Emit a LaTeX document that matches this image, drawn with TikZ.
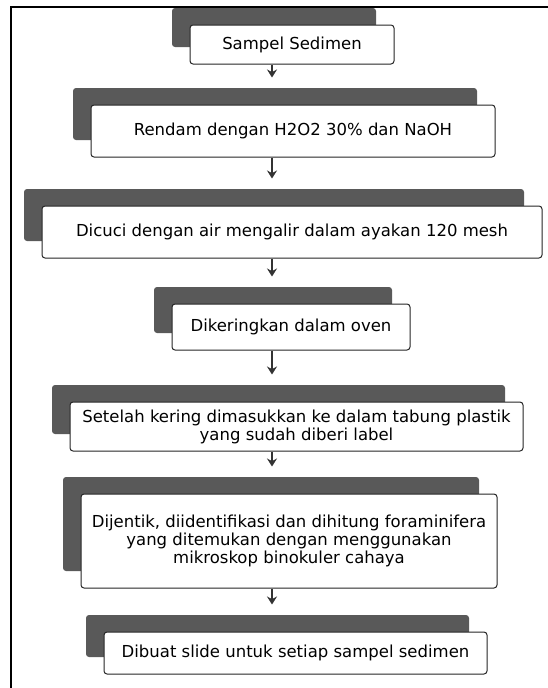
\documentclass[tikz,border=0pt]{standalone}
\usepackage{fontspec}
\setmainfont{DejaVu Sans}
\usetikzlibrary{arrows.meta,shadows}
\begin{document}
\begin{tikzpicture}[x=1pt,y=-1pt,
    stepbox/.style={draw=black!85,line width=1pt,fill=white,rounded corners=3pt,
        align=center,inner sep=0pt,font=\fontsize{16.5}{18}\selectfont,
        general shadow={shadow xshift=-18pt,shadow yshift=17pt,fill=black!65}},
    flow/.style={draw=black!80,line width=2pt,-{Stealth[length=8pt,width=10pt]},shorten >=27pt}]
\useasboundingbox (0,0) rectangle (548,688);
\draw[line width=2pt] (548,7) -- (10.5,7) -- (10.5,688);
\coordinate (axis) at (272,0);

\node[stepbox,minimum width=204pt,minimum height=39pt] at (292,44.5)(sampel){Sampel Sedimen};
\node[stepbox,minimum width=404pt,minimum height=52pt] at (293,131)(rendam){Rendam dengan H2O2 30\% dan NaOH};
\node[stepbox,minimum width=500pt,minimum height=52pt] at (292,232)(cuci){Dicuci dengan air mengalir dalam ayakan 120 mesh};
\node[stepbox,minimum width=238pt,minimum height=46pt] at (291,327)(kering){Dikeringkan dalam oven};
\node[stepbox,minimum width=453pt,minimum height=49pt] at (296.5,426.5)(tabung){Setelah kering dimasukkan ke dalam tabung plastik\\yang sudah diberi label};
\node[stepbox,minimum width=416pt,minimum height=94pt] at (289,541)(hitung){Dijentik, diidentifikasi dan dihitung foraminifera\\yang ditemukan dengan menggunakan\\mikroskop binokuler cahaya};
\node[stepbox,minimum width=383pt,minimum height=42pt] at (295.5,653)(slide){Dibuat slide untuk setiap sampel sedimen};

\foreach \a/\b in {sampel/rendam,rendam/cuci,cuci/kering,kering/tabung,tabung/hitung,hitung/slide}
    \path[flow] (\a.south -| axis) -- (\b.north -| axis);
\end{tikzpicture}
\end{document}
